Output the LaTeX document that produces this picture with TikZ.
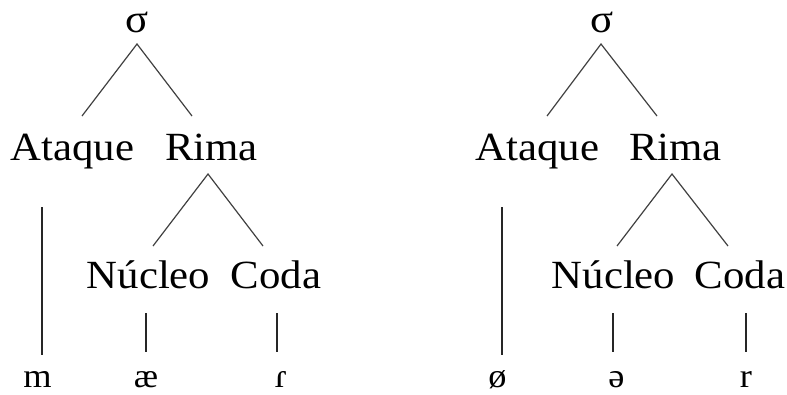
\documentclass[tikz,border=0pt]{standalone}
\usepackage{fontspec}
\setmainfont{Liberation Serif}[FakeStretch=1.07]
\begin{document}
\begin{tikzpicture}[x=1pt,y=-1pt,
  lbl/.style={inner sep=0pt,anchor=base,font=\fontsize{40}{48}\selectfont},
  seg/.style={inner sep=0pt,anchor=base,font=\fontsize{34}{40}\selectfont},
  branch/.style={draw=black!75,line width=1.2pt},
  stem/.style={draw=black!85,line width=1.3pt}]
\useasboundingbox (0,0) rectangle (787,394);

% ---- left tree ----
\node[lbl] (sigA) at (137,32) {σ};
\node[lbl] (atA) at (72.5,160.5) {Ataque};
\node[lbl] (riA) at (211.5,160.5) {Rima};
\node[lbl] (nuA) at (148.5,288) {Núcleo};
\node[lbl] (coA) at (276,288) {Coda};
\node[seg] (mA) at (37.5,387) {m};
\node[seg] (aeA) at (146,387) {æ};
\node[seg] (tapA) at (281,387) {ɾ};

\coordinate (sigAtop) at (137,44);
\coordinate (sigAl) at (82,116);
\coordinate (sigAr) at (192,116);
\coordinate (riAtop) at (208,174);
\coordinate (riAl) at (153,246);
\coordinate (riAr) at (263,246);
\draw[branch] (sigAl) -- (sigAtop) -- (sigAr);
\draw[branch] (riAl) -- (riAtop) -- (riAr);
\coordinate (atAa) at (42,207);  \coordinate (atAb) at (42,355);
\coordinate (nuAa) at (146,313); \coordinate (nuAb) at (146,352);
\coordinate (coAa) at (277,313); \coordinate (coAb) at (277,352);
\draw[stem] (atAa) -- (atAb);
\draw[stem] (nuAa) -- (nuAb);
\draw[stem] (coAa) -- (coAb);

% ---- right tree ----
\node[lbl] (sigB) at (602.5,32) {σ};
\node[lbl] (atB) at (537.5,160.5) {Ataque};
\node[lbl] (riB) at (675.5,160.5) {Rima};
\node[lbl] (nuB) at (613.5,288) {Núcleo};
\node[lbl] (coB) at (740,288) {Coda};
\node[seg] (oB) at (497.5,387) {ø};
\node[seg] (schB) at (616.5,387) {ə};
\node[seg] (rB) at (746,387) {r};

\coordinate (sigBtop) at (601,44);
\coordinate (sigBl) at (547,116);
\coordinate (sigBr) at (657,116);
\coordinate (riBtop) at (672,174);
\coordinate (riBl) at (617,246);
\coordinate (riBr) at (728,246);
\draw[branch] (sigBl) -- (sigBtop) -- (sigBr);
\draw[branch] (riBl) -- (riBtop) -- (riBr);
\coordinate (atBa) at (502,207);  \coordinate (atBb) at (502,355);
\coordinate (nuBa) at (613,313); \coordinate (nuBb) at (613,352);
\coordinate (coBa) at (746,313); \coordinate (coBb) at (746,352);
\draw[stem] (atBa) -- (atBb);
\draw[stem] (nuBa) -- (nuBb);
\draw[stem] (coBa) -- (coBb);
\end{tikzpicture}
\end{document}
